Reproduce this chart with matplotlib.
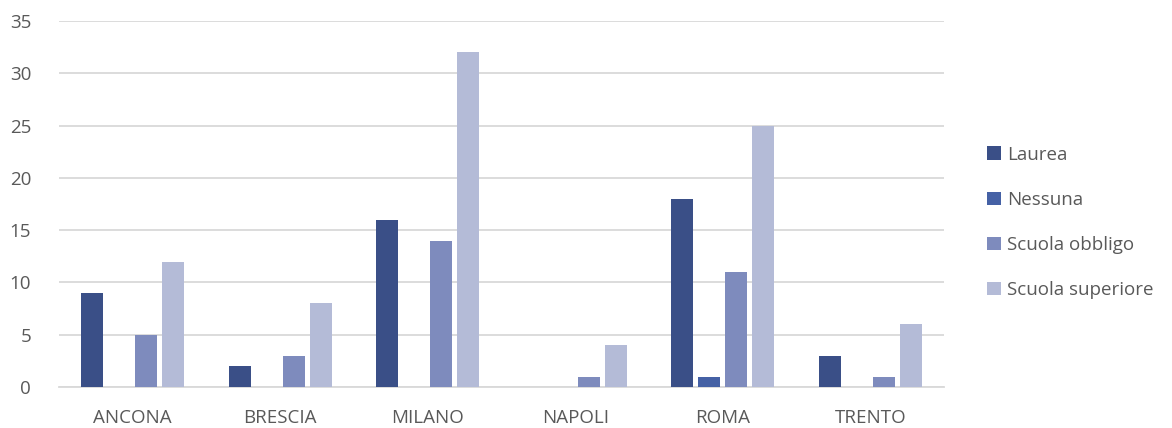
import matplotlib.pyplot as plt
import numpy as np

cities = ['ANCONA', 'BRESCIA', 'MILANO', 'NAPOLI', 'ROMA', 'TRENTO']
laurea = [9, 2, 16, 0, 18, 3]
nessuna = [0, 0, 0, 0, 1, 0]
scuola_obbligo = [5, 3, 14, 1, 11, 1]
scuola_superiore = [12, 8, 32, 4, 25, 6]

series = [
    ('Laurea', laurea, '#3a4f87'),
    ('Nessuna', nessuna, '#4561a5'),
    ('Scuola obbligo', scuola_obbligo, '#7e8bbd'),
    ('Scuola superiore', scuola_superiore, '#b4bbd7'),
]

plt.rcParams['font.family'] = ['Open Sans', 'DejaVu Sans']
text_color = '#595959'
grid_color = '#d9d9d9'

fig = plt.figure(figsize=(11.72, 4.28), dpi=100)
ax = fig.add_axes([0.0503, 0.0958, 0.7552, 0.8552])

x = np.arange(len(cities))
step = 0.183
for i, (name, vals, color) in enumerate(series):
    offs = (i - 1.5) * step
    ax.bar(x + offs, vals, width=step * 0.8, color=color, label=name, zorder=3)

ax.set_xlim(-0.5, len(cities) - 0.5)
ax.set_ylim(0, 35)
ax.set_yticks(range(0, 36, 5))
ax.set_xticks(x)
ax.set_xticklabels(cities)
ax.yaxis.grid(True, color=grid_color, linewidth=1.3, zorder=0)
for s in ['top', 'right', 'left']:
    ax.spines[s].set_visible(False)
ax.spines['bottom'].set_color(grid_color)
ax.spines['bottom'].set_linewidth(1.3)
ax.tick_params(axis='both', length=0, labelsize=13.5, colors=text_color)
ax.tick_params(axis='x', pad=16)
ax.tick_params(axis='y', pad=20)

leg = ax.legend(loc='center left', bbox_to_anchor=(1.03, 0.45), frameon=False,
                fontsize=13.5, handlelength=0.7, handleheight=0.7,
                handletextpad=0.35, labelspacing=1.45, labelcolor=text_color)

fig.savefig('out.png', dpi=100)
